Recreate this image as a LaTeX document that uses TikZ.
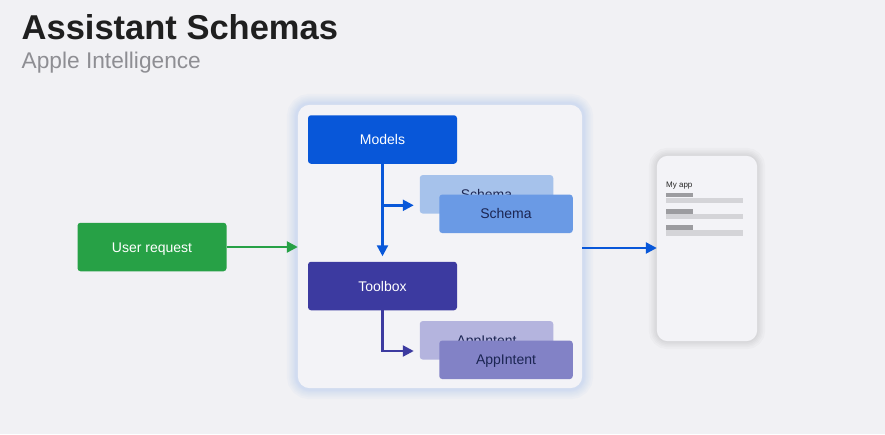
\documentclass[tikz,border=0pt]{standalone}
\usepackage{fontspec}
\setmainfont{Liberation Sans}
\usetikzlibrary{arrows.meta,calc}
\definecolor{bg}{HTML}{F1F1F4}
\definecolor{panel}{HTML}{F3F3F7}
\definecolor{glow}{HTML}{A9C4F0}
\definecolor{modelblue}{HTML}{0857D9}
\definecolor{toolpurple}{HTML}{3C3AA0}
\definecolor{schemaback}{HTML}{A6C2EB}
\definecolor{schemafront}{HTML}{6A9AE5}
\definecolor{appback}{HTML}{B4B4DE}
\definecolor{appfront}{HTML}{8282C6}
\definecolor{navy}{HTML}{1B2552}
\definecolor{usergreen}{HTML}{27A146}
\definecolor{subgray}{HTML}{8E8E93}
\definecolor{bardark}{HTML}{9C9CA0}
\definecolor{barlight}{HTML}{D4D4D8}
\begin{document}
\begin{tikzpicture}[x=1pt,y=-1pt,
  box/.style={rectangle,rounded corners=3pt,inner sep=0pt,outer sep=0pt,text height=10pt,text depth=0pt,font=\fontsize{14}{16}\selectfont},
  mainbox/.style={box,text=white,minimum width=149pt,minimum height=48.5pt},
  subbox/.style={box,text=navy,minimum width=133.5pt,minimum height=38.5pt},
  conn/.style={line width=2.4pt,-{Triangle[length=11pt,width=11pt]}}
]
\fill[bg] (0,0) rectangle (885,434);
\useasboundingbox (0,0) rectangle (885,434);

% titles
\node[anchor=base west,inner sep=0pt,font=\bfseries\fontsize{34.5}{40}\selectfont,text={black!88}] (title) at (21.5,39.5) {Assistant Schemas};
\node[anchor=base west,inner sep=0pt,font=\fontsize{22.7}{26}\selectfont,text=subgray] (subtitle) at (21.5,68.5) {Apple Intelligence};

% container with glow
\node[rectangle,inner sep=0pt,minimum width=284pt,minimum height=283pt] (panel) at (440,246.5) {};
\foreach \w in {22,18,15,12,9,7,5}{
  \draw[glow,line width=\w pt,opacity=0.07,rounded corners=12pt] (panel.north west) rectangle (panel.south east);
}
\fill[panel,rounded corners=12pt] (panel.north west) rectangle (panel.south east);

% phone with shadow
\node[rectangle,inner sep=0pt,minimum width=100pt,minimum height=185pt] (phone) at (707,248.5) {};
\foreach \w in {16,12,9,6,3}{
  \draw[black,line width=\w pt,opacity=0.018,rounded corners=11pt] (phone.north west) rectangle (phone.south east);
}
\fill[panel,rounded corners=11pt] (phone.north west) rectangle (phone.south east);
\node[anchor=base west,inner sep=0pt,font=\fontsize{8}{9}\selectfont,text={black!85}] (myapp) at (666,187) {My app};
\foreach \y in {192.5,209,225.3}{
  \fill[barlight] (666,\y+5) rectangle (743,\y+10.3);
  \fill[bardark] (666,\y) rectangle (693.3,\y+4.6);
}

% boxes
\node[mainbox,fill=usergreen] (user) at (152,247) {User request};
\node[mainbox,fill=modelblue] (models) at (382.5,139.5) {Models};
\node[mainbox,fill=toolpurple] (toolbox) at (382.5,286) {Toolbox};
\node[subbox,fill=schemaback] (schemaB) at (486.5,194.3) {Schema};
\node[subbox,fill=schemafront] (schemaF) at (506,213.8) {Schema};
\node[subbox,fill=appback] (appB) at (486.5,340.3) {AppIntent};
\node[subbox,fill=appfront] (appF) at (506,359.8) {AppIntent};

% connectors
\coordinate (mbranch) at (382.5,205.3);
\coordinate (tbend) at (382.5,351);
\draw[conn,modelblue,shorten >=5.5pt] (models.south) -- (toolbox.north);
\draw[conn,modelblue,shorten >=6pt] (mbranch) -- (schemaB.west |- mbranch);
\draw[conn,toolpurple,shorten >=6pt,line join=miter] (toolbox.south) -- (tbend) -- (appB.west |- tbend);
\draw[conn,usergreen] (user.east) -- (panel.west |- user.east);
\draw[conn,modelblue] (panel.east |- 0,248) -- (phone.west |- 0,248);
\end{tikzpicture}
\end{document}
